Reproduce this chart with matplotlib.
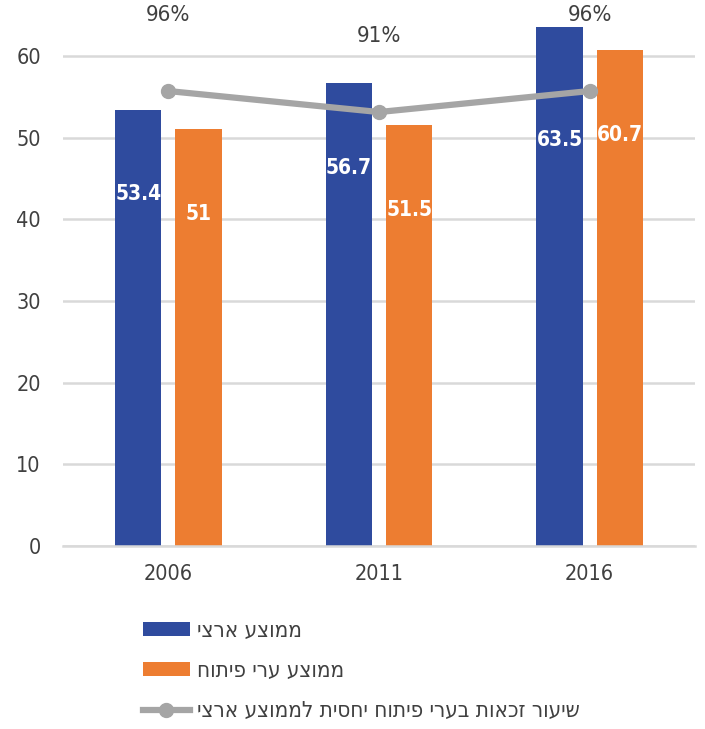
#! /usr/bin/env python3

import matplotlib
matplotlib.use("Agg")
import matplotlib.pyplot as plt
import numpy as np

years = ["2006", "2011", "2016"]
national_avg = [53.4, 56.7, 63.5]
dev_towns_avg = [51.0, 51.5, 60.7]
ratio = [0.96, 0.91, 0.96]
ratio_labels = ["96%", "91%", "96%"]

label_national = "ממוצע ארצי"
label_dev = "ממוצע ערי פיתוח"
label_ratio = "שיעור זכאות בערי פיתוח יחסית לממוצע ארצי"


def rtl(s):
    # matplotlib has no bidi support, flip hebrew for visual order
    return s[::-1]


plt.rcParams["font.family"] = ["DejaVu Sans"]
plt.rcParams["font.stretch"] = "condensed"

blue = "#2f4b9e"
orange = "#ed7d31"
gray = "#a5a5a5"
text_col = "#404040"

fig = plt.figure(figsize=(7.05, 7.29), dpi=100)
ax = fig.add_axes([63 / 705, 183 / 729, 632 / 705, 531 / 729])

x = np.arange(len(years))
w = 0.22
off = 0.143

b1 = ax.bar(x - off, national_avg, w, color=blue, zorder=2)
b2 = ax.bar(x + off, dev_towns_avg, w, color=orange, zorder=2)

ax.set_xlim(-0.5, 2.5)
ax.set_ylim(0, 65)
ax.set_yticks(range(0, 61, 10))
ax.set_xticks(x)
ax.set_xticklabels(years)
ax.yaxis.grid(True, color="#d9d9d9", linewidth=1.8, zorder=0)
ax.set_axisbelow(True)
for s in ["top", "right", "left"]:
    ax.spines[s].set_visible(False)
ax.spines["bottom"].set_color("#d9d9d9")
ax.spines["bottom"].set_linewidth(1.8)
ax.tick_params(axis="both", length=0, labelsize=15.5, colors=text_col)
ax.tick_params(axis="y", pad=16)
ax.tick_params(axis="x", pad=13)

# value labels inside bars (offsets in points below bar top)
drops = [[61, 61, 81], [61, 61, 61]]
for bars, vals, dr in [(b1, national_avg, drops[0]), (b2, dev_towns_avg, drops[1])]:
    for rect, v, d in zip(bars, vals, dr):
        ax.annotate(f"{v:g}",
                    xy=(rect.get_x() + rect.get_width() / 2, v),
                    xytext=(0, -d), textcoords="offset points",
                    ha="center", va="center", color="white",
                    fontweight="bold", fontsize=15)

ax2 = ax.twinx()
line, = ax2.plot(x, ratio, color=gray, linewidth=4.5, marker="o",
                 markersize=10, zorder=3)
ax2.set_ylim(-0.123, 1.141)
ax2.axis("off")
for xi, r, lab in zip(x, ratio, ratio_labels):
    ax2.annotate(lab, xy=(xi, r), xytext=(0, 55), textcoords="offset points",
                 ha="center", va="center", color=text_col, fontsize=16)

leg = fig.legend([b1, b2, line],
                 [rtl(label_national), rtl(label_dev), rtl(label_ratio)],
                 loc="upper left", bbox_to_anchor=(123 / 705, 128 / 729),
                 frameon=False, fontsize=16, labelspacing=0.9,
                 handlelength=2.1, handleheight=0.55, handletextpad=0.35,
                 labelcolor=text_col)

plt.savefig("out.png", dpi=100)
plt.close()
